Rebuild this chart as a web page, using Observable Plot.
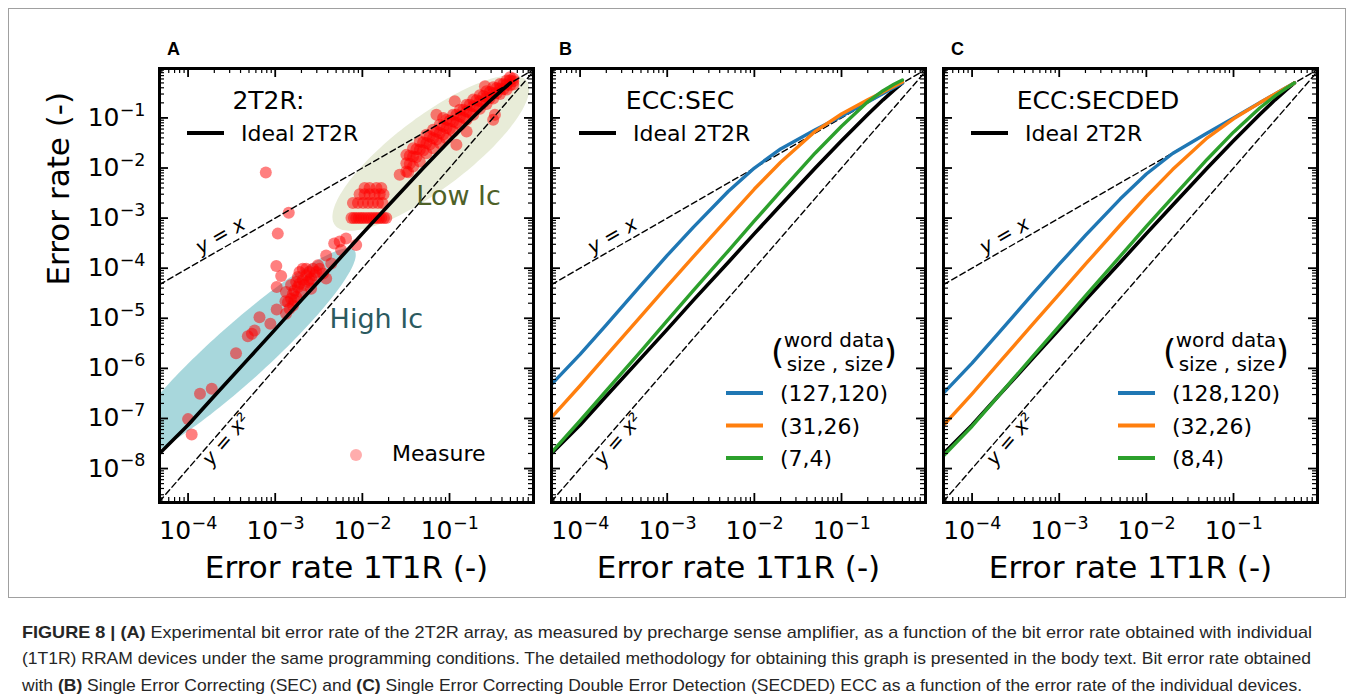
<!DOCTYPE html>
<html>
<head>
<meta charset="utf-8">
<script src="https://cdn.jsdelivr.net/npm/d3@7"></script>
<script src="https://cdn.jsdelivr.net/npm/@observablehq/plot@0.6"></script>
<style>
  body { margin: 0; background: #fff; }
  #fig { position: relative; width: 1355px; height: 700px; overflow: hidden; font-family: "DejaVu Sans", sans-serif; background: #fff; }
  #border { position: absolute; left: 8px; top: 8px; width: 1338px; height: 590px; border: 1px solid #a0a0a0; box-sizing: border-box; }
  .panel { position: absolute; top: 0; }
  #overlay { position: absolute; left: 0; top: 0; z-index: 5; }
  .cap { position: absolute; left: 22px; white-space: nowrap; font-family: "Liberation Sans Narrow", "Liberation Sans", sans-serif; font-size: 17px; line-height: 20px; color: #262626; transform-origin: 0 50%; }
  .cap b { font-weight: bold; }
</style>
</head>
<body>
<div id="fig">
  <div id="border"></div>
  <div id="pA" class="panel" style="left:0px"></div>
  <div id="pB" class="panel" style="left:539px"></div>
  <div id="pC" class="panel" style="left:931px"></div>
  <svg id="overlay" width="1355" height="600"></svg>
  <div class="cap" id="cap1" style="top:623px"><b>FIGURE 8 | (A)</b> Experimental bit error rate of the 2T2R array, as measured by precharge sense amplifier, as a function of the bit error rate obtained with individual</div>
  <div class="cap" id="cap2" style="top:649px">(1T1R) RRAM devices under the same programming conditions. The detailed methodology for obtaining this graph is presented in the body text. Bit error rate obtained</div>
  <div class="cap" id="cap3" style="top:676px">with <b>(B)</b> Single Error Correcting (SEC) and <b>(C)</b> Single Error Correcting Double Error Detection (SECDED) ECC as a function of the error rate of the individual devices.</div>
</div>
<script>
// ---------------- data ----------------
const xDomain = [4.7e-5, 0.92];
const yDomain = [2.1e-9, 0.97];
const xMajor = [1e-4, 1e-3, 1e-2, 1e-1];
const yMajor = [1e-8, 1e-7, 1e-6, 1e-5, 1e-4, 1e-3, 1e-2, 1e-1];

// reference lines y = x and y = x^2 (end points)
const refX = [4.7e-5, 0.92];
const refLinear = [4.7e-5, 0.92];
const refSquare = [2.2e-9, 0.846];

// 1T1R error rate grid for the computed curves
const errGrid = [4.7e-5, 1e-4, 2e-4, 5e-4, 1e-3, 2e-3, 5e-3, 1e-2, 2e-2, 5e-2, 0.1, 0.2, 0.3, 0.4, 0.5];
const ideal2T2R = [2.0e-8, 7.4e-8, 2.8e-7, 1.6e-6, 6.0e-6, 2.3e-5, 1.3e-4, 4.9e-4, 1.8e-3, 1.0e-2, 3.5e-2, 0.117, 0.23, 0.36, 0.5];
const sec127 = [4.8e-7, 1.9e-6, 7.4e-6, 4.6e-5, 1.8e-4, 6.6e-4, 3.4e-3, 1.0e-2, 2.4e-2, 5.8e-2, 0.108, 0.208, 0.308, 0.405, 0.5];
const sec31 = [1.05e-7, 4.5e-7, 1.8e-6, 1.1e-5, 4.4e-5, 1.7e-4, 1.0e-3, 3.8e-3, 1.3e-2, 5.4e-2, 0.12, 0.23, 0.33, 0.43, 0.52];
const sec7 = [2.1e-8, 9.0e-8, 3.6e-7, 2.2e-6, 9.0e-6, 3.6e-5, 2.2e-4, 8.8e-4, 3.4e-3, 2.0e-2, 6.8e-2, 0.21, 0.35, 0.47, 0.57];
const secded128 = [3.2e-7, 1.27e-6, 5.0e-6, 3.1e-5, 1.2e-4, 4.5e-4, 2.4e-3, 7.6e-3, 1.95e-2, 5.0e-2, 0.1, 0.2, 0.3, 0.4, 0.5];
const secded32 = [7.3e-8, 3.1e-7, 1.24e-6, 7.7e-6, 3.05e-5, 1.2e-4, 7.2e-4, 2.7e-3, 9.3e-3, 4.0e-2, 9.6e-2, 0.2, 0.3, 0.4, 0.5];
const secded8 = [1.8e-8, 7.0e-8, 2.8e-7, 1.75e-6, 7.0e-6, 2.8e-5, 1.72e-4, 6.8e-4, 2.6e-3, 1.5e-2, 5.2e-2, 0.158, 0.275, 0.389, 0.5];

const secLabels = ["(127,120)", "(31,26)", "(7,4)"];
const secdedLabels = ["(128,120)", "(32,26)", "(8,4)"];
const seriesColors = ["#1f77b4", "#ff7f0e", "#2ca02c"];

// measured 2T2R vs 1T1R error rates — high Ic devices
const highIcX = [1.10e-4, 1.0e-4, 1.37e-4, 1.87e-4, 3.55e-4, 4.85e-4, 5.8e-4, 5.4e-4, 6.6e-4, 8.8e-4, 1.04e-3, 1.33e-3, 1.04e-3, 1.17e-3, 1.03e-3, 1.07e-3, 1.43e-3, 7.8e-4, 1.31e-3,
  1.40e-3, 1.52e-3, 1.60e-3, 1.66e-3, 1.74e-3, 1.82e-3, 1.90e-3, 1.99e-3, 2.07e-3, 2.16e-3, 2.27e-3, 2.37e-3, 2.47e-3, 2.58e-3, 2.71e-3, 2.83e-3, 2.95e-3, 3.23e-3, 3.53e-3, 3.84e-3,
  1.90e-3, 2.27e-3, 1.74e-3, 1.52e-3, 1.33e-3, 2.07e-3, 3.09e-3, 2.58e-3, 1.60e-3, 1.46e-3, 1.82e-3, 2.47e-3, 1.66e-3,
  3.84e-3, 4.4e-3, 4.75e-3, 5.5e-3, 6.5e-3, 8.5e-3, 5.7e-3];
const highIcY = [4.8e-8, 9.7e-8, 3.1e-7, 3.9e-7, 2.0e-6, 4.4e-6, 5.7e-6, 4.9e-6, 1.05e-5, 7.8e-6, 1.5e-5, 1.23e-5, 4.2e-5, 7.0e-5, 1.11e-4, 4.9e-4, 1.28e-3, 8.1e-3, 2.2e-5,
  2.1e-5, 2.46e-5, 3.1e-5, 3.6e-5, 2.65e-5, 4.2e-5, 4.9e-5, 3.35e-5, 5.8e-5, 4.6e-5, 7.2e-5, 5.3e-5, 8.4e-5, 6.2e-5, 9.8e-5, 7.2e-5, 8.4e-5, 9.8e-5, 7.8e-5, 6.2e-5,
  8.4e-5, 9.8e-5, 5.3e-5, 4.6e-5, 3.35e-5, 9.8e-5, 1.15e-4, 3.9e-5, 1.8e-5, 1.55e-5, 6.7e-5, 5.8e-5, 2.3e-5,
  1.8e-4, 1.24e-4, 3.1e-4, 3.4e-4, 3.9e-4, 2.9e-4, 2.3e-4];

// measured — low Ic devices
const lowIcX = [7.5e-3, 8.0e-3, 8.5e-3, 9.1e-3, 9.7e-3, 1.03e-2, 1.11e-2, 1.19e-2, 1.27e-2, 1.36e-2, 1.45e-2, 1.55e-2, 1.65e-2, 1.77e-2, 1.88e-2,
  7.8e-3, 8.9e-3, 1.02e-2, 1.16e-2, 1.32e-2, 1.51e-2, 1.70e-2,
  9.3e-3, 1.06e-2, 1.21e-2, 1.38e-2, 1.58e-2, 1.75e-2,
  1.06e-2, 1.21e-2, 1.45e-2, 1.65e-2,
  0.0320, 0.0320, 0.0320, 0.0382, 0.0382, 0.0382, 0.0456, 0.0456, 0.0456, 0.0543, 0.0543, 0.0543, 0.0648, 0.0648, 0.0648,
  0.0773, 0.0773, 0.0773, 0.0923, 0.0923, 0.0923, 0.110, 0.110, 0.110, 0.132, 0.132, 0.132, 0.157, 0.157, 0.157,
  0.187, 0.187, 0.187, 0.223, 0.223, 0.223, 0.266, 0.266, 0.266, 0.317, 0.317, 0.317, 0.379, 0.379, 0.379,
  0.452, 0.452, 0.452, 0.539, 0.539, 0.539,
  0.0350, 0.0350, 0.0417, 0.0417, 0.0498, 0.0498, 0.0593, 0.0593, 0.0708, 0.0708, 0.0845, 0.0845, 0.1008, 0.1008,
  0.120, 0.120, 0.144, 0.144, 0.171, 0.171, 0.204, 0.204, 0.244, 0.244, 0.290, 0.290, 0.347, 0.347, 0.414, 0.414, 0.494, 0.494,
  0.0268, 0.0335, 0.0708, 0.0845, 0.115, 0.120, 0.157, 0.317, 0.332, 0.255, 0.494];
const lowIcY = [1e-3, 1e-3, 1e-3, 1e-3, 1e-3, 1e-3, 1e-3, 1e-3, 1e-3, 1e-3, 1e-3, 1e-3, 1e-3, 1e-3, 1e-3,
  2e-3, 2e-3, 2e-3, 2e-3, 2e-3, 2e-3, 2e-3,
  3e-3, 3e-3, 3e-3, 3e-3, 3e-3, 3e-3,
  4e-3, 4e-3, 4e-3, 4e-3,
  0.0125, 0.0183, 0.0085, 0.0170, 0.0249, 0.0107, 0.0231, 0.0339, 0.0135, 0.0314, 0.0461, 0.0198, 0.0395, 0.0581, 0.0249,
  0.0498, 0.0732, 0.0314, 0.0628, 0.0922, 0.0395, 0.0853, 0.116, 0.0538, 0.107, 0.146, 0.0732, 0.135, 0.184, 0.0922,
  0.171, 0.232, 0.116, 0.215, 0.283, 0.153, 0.258, 0.341, 0.190, 0.316, 0.410, 0.243, 0.385, 0.478, 0.301,
  0.463, 0.557, 0.368, 0.540, 0.611, 0.463,
  0.0175, 0.0121, 0.0238, 0.0165, 0.0324, 0.0224, 0.0427, 0.0295, 0.0538, 0.0372, 0.0678, 0.0469, 0.0880, 0.0609,
  0.116, 0.0802, 0.146, 0.101, 0.184, 0.127, 0.225, 0.165, 0.275, 0.202, 0.330, 0.250, 0.397, 0.311, 0.478, 0.374, 0.557, 0.449,
  7.3e-3, 8.2e-3, 0.116, 0.10, 0.215, 0.029, 0.0538, 0.0922, 0.116, 0.429, 0.65];

// shaded zones (centre and semi-axes, in decades of log10 error rate)
const highIcZone = {cx: -3.429, cy: -5.735, ax: 1.336, ay: 2.092, bx: 0.215, by: -0.415};
const lowIcZone = {cx: -1.215, cy: -1.700, ax: 1.10, ay: 1.44, bx: 0.252, by: -0.580};
const highIcLabel = {x: 4.21e-3, y: 6.26e-6, t: "High Ic"};
const lowIcLabel = {x: 0.0416, y: 1.79e-3, t: "Low Ic"};
const yxLabel = {x: 2.35e-4, y: 2.35e-4, t: "y = x"};
const yx2Label = {x: 2.74e-4, y: 7.5e-8, t: "y = x²"};

// ---------------- helpers ----------------
const FW = 374, FH = 434, MT = 68, MB = 118, MR = 6;
const font = "DejaVu Sans";

function table(xs, ys) { return xs.map((x, i) => ({x, y: ys[i]})); }
function ellipse(c) {
  const pts = [];
  for (let i = 0; i <= 160; i++) {
    const t = i / 160 * 2 * Math.PI;
    pts.push({x: 10 ** (c.cx + c.ax * Math.cos(t) + c.bx * Math.sin(t)),
              y: 10 ** (c.cy + c.ay * Math.cos(t) + c.by * Math.sin(t))});
  }
  return pts;
}
function isDecade(v) { return Math.abs(Math.log10(v) - Math.round(Math.log10(v))) < 1e-6; }
const xMinor = d3.scaleLog().domain(xDomain).ticks(30).filter(v => !isDecade(v));
const yMinor = d3.scaleLog().domain(yDomain).ticks(30).filter(v => !isDecade(v));
const xMajorIn = d3.scaleLog().domain(xDomain).ticks(30).filter(isDecade);
const yMajorIn = d3.scaleLog().domain(yDomain).ticks(30).filter(isDecade);
const expo = d => "\u2212" + Math.round(-Math.log10(d));

function panel(kind) {
  const isA = kind === "A";
  const mL = isA ? 159 : 12;
  const marks = [];
  if (isA) {
    marks.push(Plot.line(ellipse(highIcZone), {x: "x", y: "y", fill: "#a8d7dc", stroke: "none", clip: true}));
    marks.push(Plot.line(ellipse(lowIcZone), {x: "x", y: "y", fill: "#e8ecd8", stroke: "none", clip: true}));
    marks.push(Plot.dot(table(highIcX, highIcY), {x: "x", y: "y", r: 6, fill: "red", fillOpacity: 0.5, clip: true}));
    marks.push(Plot.dot(table(lowIcX, lowIcY), {x: "x", y: "y", r: 6, fill: "red", fillOpacity: 0.5, clip: true}));
  }
  // reference dashed lines
  marks.push(Plot.line(table(refX, refLinear), {x: "x", y: "y", stroke: "black", strokeWidth: 1.4, strokeDasharray: "6,3.5", clip: true}));
  marks.push(Plot.line(table(refX, refSquare), {x: "x", y: "y", stroke: "black", strokeWidth: 1.4, strokeDasharray: "6,3.5", clip: true}));
  // ideal 2T2R
  marks.push(Plot.line(table(errGrid, ideal2T2R), {x: "x", y: "y", stroke: "black", strokeWidth: 3.6, clip: true}));
  if (!isA) {
    const series = kind === "B" ? [sec127, sec31, sec7] : [secded128, secded32, secded8];
    series.forEach((s, i) => marks.push(Plot.line(table(errGrid, s), {x: "x", y: "y", stroke: seriesColors[i], strokeWidth: 3.4, clip: true})));
  }
  // annotations
  marks.push(Plot.text([yxLabel], {x: "x", y: "y", text: "t", rotate: -29.9, dy: -14, fontSize: 20, fontStyle: "italic", fontFamily: font}));
  marks.push(Plot.text([yx2Label], {x: "x", y: "y", text: "t", rotate: -49, dy: 15, fontSize: 20, fontStyle: "italic", fontFamily: font}));
  if (isA) {
    marks.push(Plot.text([highIcLabel], {x: "x", y: "y", text: "t", textAnchor: "start", lineAnchor: "bottom", fontSize: 27, fill: "#2b5a5f", fontFamily: font}));
    marks.push(Plot.text([lowIcLabel], {x: "x", y: "y", text: "t", textAnchor: "start", lineAnchor: "bottom", fontSize: 27, fill: "#4e6128", fontFamily: font}));
  }
  // ticks (inward, all four sides)
  marks.push(Plot.tickX(xMinor, {x: d => d, insetTop: FH - 5, strokeWidth: 1.2}));
  marks.push(Plot.tickX(xMinor, {x: d => d, insetBottom: FH - 5, strokeWidth: 1.2}));
  marks.push(Plot.tickX(xMajorIn, {x: d => d, insetTop: FH - 9, strokeWidth: 1.8}));
  marks.push(Plot.tickX(xMajorIn, {x: d => d, insetBottom: FH - 9, strokeWidth: 1.8}));
  marks.push(Plot.tickY(yMinor, {y: d => d, insetRight: FW - 5, strokeWidth: 1.2}));
  marks.push(Plot.tickY(yMinor, {y: d => d, insetLeft: FW - 5, strokeWidth: 1.2}));
  marks.push(Plot.tickY(yMajorIn, {y: d => d, insetRight: FW - 9, strokeWidth: 1.8}));
  marks.push(Plot.tickY(yMajorIn, {y: d => d, insetLeft: FW - 9, strokeWidth: 1.8}));
  marks.push(Plot.frame({stroke: "black", strokeWidth: 3}));
  // x tick labels
  marks.push(Plot.text(xMajor, {x: d => d, frameAnchor: "bottom", text: () => "10", textAnchor: "end", lineAnchor: "bottom", dx: 3, dy: 36, fontSize: 25, fontFamily: font}));
  marks.push(Plot.text(xMajor, {x: d => d, frameAnchor: "bottom", text: expo, textAnchor: "start", lineAnchor: "bottom", dx: 3.5, dy: 26, fontSize: 17.5, fontFamily: font}));
  marks.push(Plot.text(["Error rate 1T1R (-)"], {frameAnchor: "bottom", text: d => d, lineAnchor: "bottom", dy: 75, fontSize: 31, fontFamily: font}));
  if (isA) {
    marks.push(Plot.text(yMajor, {y: d => d, frameAnchor: "left", text: () => "10", textAnchor: "end", lineAnchor: "middle", dx: -40, fontSize: 25, fontFamily: font}));
    marks.push(Plot.text(yMajor, {y: d => d, frameAnchor: "left", text: expo, textAnchor: "end", lineAnchor: "middle", dx: -14, dy: -8, fontSize: 17.5, fontFamily: font}));
    marks.push(Plot.text(["Error rate (-)"], {frameAnchor: "left", text: d => d, rotate: -90, lineAnchor: "bottom", dx: -91, fontSize: 31, fontFamily: font}));
  }
  return Plot.plot({
    width: mL + FW + MR, height: MT + FH + MB,
    marginLeft: mL, marginRight: MR, marginTop: MT, marginBottom: MB,
    x: {type: "log", domain: xDomain, axis: null},
    y: {type: "log", domain: yDomain, axis: null},
    style: {fontFamily: font, background: "transparent", overflow: "visible"},
    marks
  });
}

document.getElementById("pA").appendChild(panel("A"));
document.getElementById("pB").appendChild(panel("B"));
document.getElementById("pC").appendChild(panel("C"));

// ---------------- in-frame legends and panel letters ----------------
const ov = d3.select("#overlay");
function T(x, y, s, size, anchor = "start", extra = {}) {
  const t = ov.append("text").attr("x", x).attr("y", y).attr("font-size", size)
    .attr("font-family", extra.family || font).attr("text-anchor", anchor).attr("fill", extra.fill || "black").text(s);
  if (extra.weight) t.attr("font-weight", extra.weight);
  return t;
}
function swatch(x1, x2, y, color) {
  ov.append("line").attr("x1", x1).attr("x2", x2).attr("y1", y).attr("y2", y).attr("stroke", color).attr("stroke-width", 4);
}
const frameLeft = [159, 551, 943];
["A", "B", "C"].forEach((L, i) => T(frameLeft[i] + 8, 55, L, 18, "start", {family: "Liberation Sans", weight: "bold"}));
const titles = ["2T2R:", "ECC:SEC", "ECC:SECDED"];
const titleCx = [109.5, 129, 155];
titles.forEach((t, i) => {
  const fl = frameLeft[i];
  T(fl + titleCx[i], 109, t, 25, "middle");
  swatch(fl + 28, fl + 65, 133, "black");
  T(fl + 82, 141, "Ideal 2T2R", 22);
});
// Measure legend in A
ov.append("circle").attr("cx", 356).attr("cy", 455).attr("r", 6).attr("fill", "red").attr("fill-opacity", 0.32);
T(392, 461, "Measure", 22);
// word/data size legends in B and C
[[1, secLabels], [2, secdedLabels]].forEach(([i, labels]) => {
  const fl = frameLeft[i];
  T(fl + 220, 364, "(", 34);
  T(fl + 346, 364, ")", 34, "end");
  T(fl + 283, 347, "word data", 20, "middle");
  T(fl + 284, 371, "size , size", 20, "middle");
  labels.forEach((lab, k) => {
    const y = 393 + k * 32.5;
    swatch(fl + 175, fl + 212, y, seriesColors[k]);
    T(fl + 229, y + 8, lab, 22);
  });
});

// ---------------- caption fitting ----------------
const capTargets = {cap1: 1290, cap2: 1289, cap3: 1280};
function fitCaps() {
  Object.entries(capTargets).forEach(([id, w]) => {
    const el = document.getElementById(id);
    el.style.transform = "none";
    const cur = el.getBoundingClientRect().width;
    if (cur > 0) el.style.transform = `scaleX(${w / cur})`;
  });
}
fitCaps();
if (document.fonts && document.fonts.ready) document.fonts.ready.then(fitCaps);
</script>
</body>
</html>
